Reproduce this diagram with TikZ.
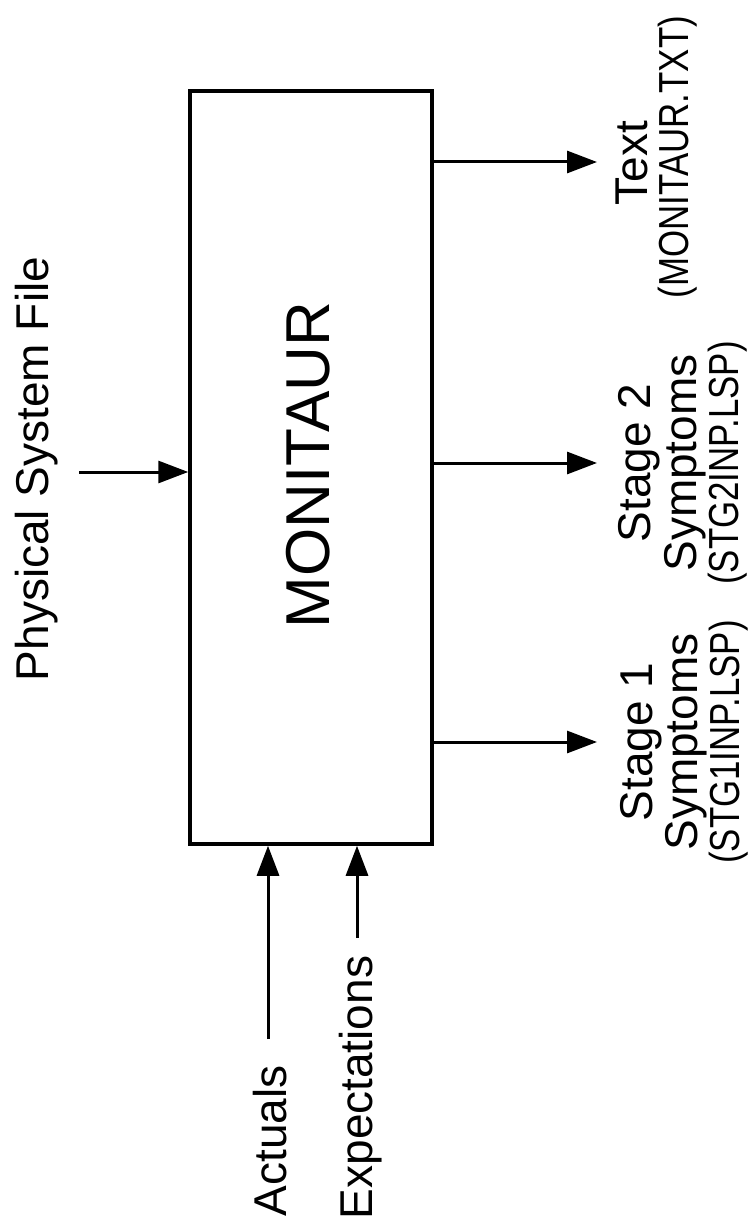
\documentclass[tikz,border=0pt]{standalone}
\usepackage{fontspec}
\setmainfont{Liberation Sans}
\newfontfamily\narrowfont[FakeStretch=0.83]{Liberation Sans}
\usetikzlibrary{arrows.meta}
\tikzset{
  mainbox/.style={draw, line width=3.5pt, minimum width=242pt, minimum height=753pt, inner sep=0pt},
  arr/.style={line width=3pt, -{Triangle[length=30pt,width=22pt]}},
  lbl/.style={rotate=90, anchor=base, inner sep=0pt, font=\fontsize{46}{50}\selectfont},
  flbl/.style={rotate=90, anchor=base, inner sep=0pt, font=\narrowfont\fontsize{42}{46}\selectfont},
  big/.style={rotate=90, anchor=base, inner sep=0pt, font=\fontsize{62}{66}\selectfont}
}
\begin{document}
\begin{tikzpicture}[x=1pt,y=-1pt]
\useasboundingbox (0,0) rectangle (752,1230);
\node[mainbox] (box) at (311,467.5) {};
\node[big] (title) at (329,465) {MONITAUR};
% input labels
\node[lbl] (phys) at (48,469) {Physical System File};
\node[lbl] (act) at (286,1141) {Actuals};
\node[lbl] (exp) at (372,1087.5) {Expectations};
% output labels
\node[lbl] (s1a) at (652,742) {Stage 1};
\node[lbl] (s1b) at (697,742) {Symptoms};
\node[flbl] (s1c) at (739,742) {(STG1INP.LSP)};
\node[lbl] (s2a) at (650,463) {Stage 2};
\node[lbl] (s2b) at (696,463) {Symptoms};
\node[flbl] (s2c) at (738,463) {(STG2INP.LSP)};
\node[lbl] (t1) at (647,163) {Text};
\node[flbl] (t2) at (688,157) {(MONITAUR.TXT)};
% connector ends
\coordinate (pin) at (79,472);
\coordinate (ain) at (268,1039);
\coordinate (ein) at (357,938);
\coordinate (o1) at (597,742);
\coordinate (o2) at (597,463);
\coordinate (o3) at (597,162);
% connectors
\draw[arr] (pin) -- (pin -| box.west);
\draw[arr] (ain) -- (ain |- box.south);
\draw[arr] (ein) -- (ein |- box.south);
\draw[arr] (o1 -| box.east) -- (o1);
\draw[arr] (o2 -| box.east) -- (o2);
\draw[arr] (o3 -| box.east) -- (o3);
\end{tikzpicture}
\end{document}
